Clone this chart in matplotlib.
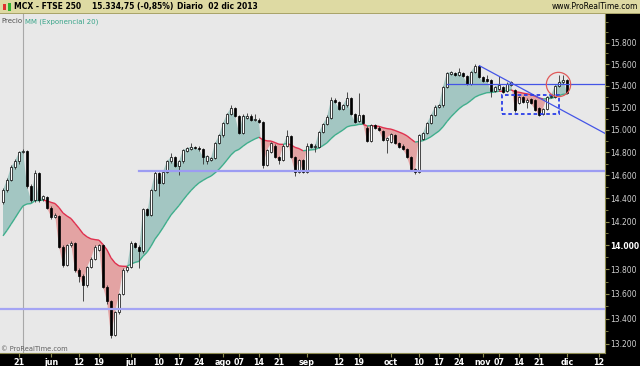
import numpy as np
import pandas as pd
import matplotlib
matplotlib.use('Agg')
import matplotlib.pyplot as plt
from matplotlib.patches import Rectangle
from matplotlib.collections import LineCollection
from matplotlib.ticker import FixedLocator, NullFormatter

# FTSE 250 daily candles, 15 may 2013 -> 02 dic 2013
opens = [
    14370, 14470, 14560, 14670, 14720, 14800, 14815, 14505, 14384, 14620,
    14390, 14410, 14320, 14240, 14250, 13990, 13837, 14000, 14020, 13795,
    13750, 13670, 13820, 13890, 13960, 14000, 13660, 13540, 13267, 13452,
    13600, 13795, 13820, 14020, 13990, 13950, 14310, 14260, 14470, 14620,
    14530, 14630, 14720, 14760, 14680, 14720, 14815, 14830, 14845, 14840,
    14830, 14720, 14730, 14750, 14880, 14950, 15060, 15140, 15200, 15125,
    14975, 15110, 15125, 15090, 15090, 15070, 14687, 14800, 14860, 14760,
    14730, 14860, 14945, 14760, 14630, 14730, 14630, 14870, 14850, 14850,
    14980, 15050, 15110, 15270, 15250, 15190, 15220, 15290, 15140, 15080,
    15130, 15020, 14900, 15040, 15020, 14990, 14910, 14890, 14950, 14880,
    14860, 14830, 14760, 14650, 14630, 14920, 14970, 15060, 15130, 15210,
    15220, 15390, 15510, 15520, 15500, 15520, 15490, 15420, 15530, 15580,
    15480, 15460, 15450, 15350, 15370, 15390, 15350, 15410, 15360, 15240,
    15300, 15250, 15280, 15270, 15200, 15140, 15190, 15295, 15300, 15400,
    15430, 15450,
]
closes = [
    14470, 14560, 14670, 14720, 14800, 14815, 14505, 14384, 14620, 14384,
    14420, 14320, 14240, 14260, 13990, 13837, 14000, 14020, 13795, 13750,
    13670, 13820, 13890, 13990, 14000, 13660, 13540, 13267, 13452, 13600,
    13795, 13820, 14020, 13990, 13950, 14310, 14260, 14470, 14620, 14530,
    14630, 14720, 14760, 14680, 14720, 14820, 14835, 14850, 14835, 14825,
    14760, 14770, 14750, 14880, 14950, 15060, 15140, 15200, 15125, 14975,
    15125, 15125, 15090, 15100, 15070, 14687, 14820, 14880, 14760, 14730,
    14860, 14945, 14760, 14630, 14730, 14630, 14860, 14850, 14860, 14980,
    15050, 15115, 15270, 15255, 15190, 15220, 15290, 15140, 15070, 15130,
    15060, 14900, 15040, 15020, 14995, 14910, 14930, 14960, 14880, 14845,
    14830, 14760, 14650, 14630, 14950, 14970, 15060, 15130, 15210, 15225,
    15390, 15520, 15525, 15500, 15530, 15490, 15420, 15530, 15580, 15480,
    15440, 15445, 15350, 15390, 15410, 15340, 15420, 15430, 15175, 15300,
    15250, 15270, 15240, 15180, 15135, 15190, 15300, 15310, 15400, 15430,
    15455, 15335,
]
highs = [
    14490, 14575, 14690, 14745, 14815, 14830, 14820, 14520, 14640, 14630,
    14430, 14420, 14330, 14275, 14260, 14000, 14010, 14035, 14030, 13810,
    13760, 13830, 13900, 14000, 14010, 14010, 13670, 13550, 13460, 13610,
    13810, 13830, 14040, 14030, 14000, 14320, 14315, 14480, 14635, 14630,
    14640, 14735, 14790, 14770, 14730, 14830, 14850, 14880, 14860, 14860,
    14840, 14780, 14760, 14890, 14960, 15070, 15150, 15225, 15210, 15130,
    15140, 15150, 15140, 15140, 15110, 15080, 14830, 14890, 14870, 14770,
    14870, 15000, 14950, 14770, 14740, 14740, 14880, 14880, 14875, 14990,
    15060, 15130, 15300, 15290, 15260, 15230, 15340, 15295, 15150, 15330,
    15140, 15030, 15055, 15050, 15030, 15000, 14940, 14970, 14960, 14890,
    14870, 14840, 14770, 14660, 14960, 14980, 15070, 15140, 15220, 15235,
    15400, 15530, 15535, 15530, 15560, 15530, 15500, 15540, 15600, 15590,
    15490, 15500, 15460, 15400, 15490, 15400, 15430, 15445, 15370, 15310,
    15310, 15290, 15290, 15280, 15210, 15200, 15310, 15320, 15410, 15500,
    15500, 15460,
]
lows = [
    14350, 14455, 14550, 14650, 14700, 14790, 14490, 14370, 14370, 14370,
    14380, 14310, 14220, 14230, 13980, 13820, 13830, 13990, 13780, 13700,
    13545, 13660, 13810, 13880, 13950, 13650, 13520, 13250, 13260, 13440,
    13590, 13780, 13810, 13980, 13810, 13940, 14250, 14250, 14460, 14415,
    14520, 14620, 14710, 14670, 14600, 14710, 14805, 14820, 14825, 14810,
    14700, 14700, 14720, 14740, 14870, 14940, 15050, 15130, 15115, 14965,
    14965, 15100, 15080, 15080, 15060, 14660, 14680, 14790, 14750, 14700,
    14720, 14850, 14750, 14590, 14620, 14620, 14620, 14840, 14800, 14840,
    14970, 15040, 15100, 15245, 15180, 15180, 15210, 15130, 15060, 15070,
    15050, 14890, 14890, 15010, 14985, 14900, 14795, 14880, 14870, 14835,
    14820, 14750, 14640, 14610, 14620, 14910, 14960, 15050, 15120, 15200,
    15210, 15380, 15500, 15490, 15490, 15480, 15410, 15410, 15520, 15470,
    15430, 15430, 15300, 15340, 15360, 15330, 15340, 15400, 15160, 15230,
    15240, 15200, 15230, 15170, 15120, 15130, 15180, 15285, 15290, 15390,
    15420, 15320,
]
ema_start = 14080  # MM exponencial 20 at first visible bar

# drawn objects on the chart
support_levels = [14635, 13476]
support_from = '2013-07-03'
resistance_level = 15420
resistance_from = '2013-10-21'
trend_line = [('2013-10-31', 15585), ('2013-12-12', 14968)]
box_dates = ['2013-11-08', '2013-11-28']
box_prices = [15141, 15314]
circle_point = ('2013-11-28', 15420)
cursor_date = '2013-05-22'

tick_dates = ['2013-05-21', '2013-06-03', '2013-06-12', '2013-06-19', '2013-07-01',
              '2013-07-10', '2013-07-17', '2013-07-24', '2013-08-01', '2013-08-07',
              '2013-08-14', '2013-08-21', '2013-09-02', '2013-09-12', '2013-09-19',
              '2013-10-01', '2013-10-10', '2013-10-17', '2013-10-24', '2013-11-01',
              '2013-11-07', '2013-11-14', '2013-11-21', '2013-12-02', '2013-12-12']
tick_labels = ['21', 'jun', '12', '19', 'jul', '10', '17', '24', 'ago', '07', '14', '21',
               'sep', '12', '19', 'oct', '10', '17', '24', 'nov', '07', '14', '21', 'dic', '12']

# trading calendar (LSE holidays removed)
days = pd.bdate_range('2013-05-15', '2013-12-31')
days = days[~days.isin(pd.to_datetime(['2013-05-27', '2013-08-26', '2013-12-25', '2013-12-26']))]


def pos(d):
    return days.get_loc(pd.Timestamp(d))


o = np.array(opens, float)
c = np.array(closes, float)
h = np.array(highs, float)
l = np.array(lows, float)
x = np.arange(len(c))

alpha = 2 / 21
ema = [ema_start]
for v in c[1:]:
    ema.append(ema[-1] + alpha * (v - ema[-1]))
ema = np.array(ema)

TEAL_FILL = '#a3c6c2'
RED_FILL = '#e3a3a3'
TEAL_LINE = '#3fae8c'
RED_LINE = '#e0304e'
OLIVE = '#8c8a50'

fig = plt.figure(figsize=(6.4, 3.66), dpi=100, facecolor='black')
ax = fig.add_axes([0, 13 / 366, 605 / 640, 340 / 366])
ax.set_facecolor('#e8e8e8')
ax.set_yscale('log')

# fill between price and EMA
ax.fill_between(x, c, ema, where=c >= ema, interpolate=True, color=TEAL_FILL, lw=0, zorder=1)
ax.fill_between(x, c, ema, where=c < ema, interpolate=True, color=RED_FILL, lw=0, zorder=1)

segs = [[(x[i], ema[i]), (x[i + 1], ema[i + 1])] for i in range(len(x) - 1)]
cols = [TEAL_LINE if c[i + 1] >= ema[i + 1] else RED_LINE for i in range(len(x) - 1)]
ax.add_collection(LineCollection(segs, colors=cols, linewidths=1.0, zorder=2))

# candles
ax.vlines(x, l, h, color='#303030', lw=0.6, zorder=3)
up = c >= o
body_lo = np.minimum(o, c)
body_h = np.maximum(np.abs(c - o), 4)
ax.bar(x[up], body_h[up], bottom=body_lo[up], width=0.58, color='white',
       edgecolor='black', lw=0.5, zorder=4)
ax.bar(x[~up], body_h[~up], bottom=body_lo[~up], width=0.58, color='black',
       edgecolor='black', lw=0.5, zorder=4)

# drawings
ax.axvline(pos(cursor_date), color='#a8a8a8', lw=0.8, zorder=0.5)
ax.plot([pos(support_from), 151], [support_levels[0]] * 2, color='#9c9cf2', lw=1.6, zorder=5)
ax.axhline(support_levels[1], color='#a4a4f4', lw=1.6, zorder=5)
ax.plot([pos(resistance_from), 151], [resistance_level] * 2, color='#4455e6', lw=0.9, zorder=5)
(d0, p0), (d1, p1) = trend_line
ax.plot([pos(d0) + 0.1, pos(d1) + 1.5], [p0, p1], color='#4455e6', lw=0.9, zorder=5)
bx0, bx1 = pos(box_dates[0]) - 0.2, pos(box_dates[1]) + 0.1
ax.add_patch(Rectangle((bx0, box_prices[0]), bx1 - bx0, box_prices[1] - box_prices[0],
                       facecolor='#f4f4f4', alpha=0.45, edgecolor='none', zorder=0.8))
ax.add_patch(Rectangle((bx0, box_prices[0]), bx1 - bx0, box_prices[1] - box_prices[0],
                       facecolor='none', edgecolor='#2a3ee8', lw=1.3, ls=(0, (2, 1.5)), zorder=6))
ax.plot(pos(circle_point[0]) - 0.2, circle_point[1], 'o', ms=17.5, mfc='none',
        mec='#e05a5a', mew=0.9, zorder=6)

# axes
ax.set_xlim(-0.75, 150.5)
ax.set_ylim(13129, 16083)
for s in ['top', 'left']:
    ax.spines[s].set_visible(False)
for s in ['right', 'bottom']:
    ax.spines[s].set_color(OLIVE)
    ax.spines[s].set_linewidth(0.8)

yt = list(range(13200, 15801, 200))
ax.yaxis.tick_right()
ax.yaxis.set_major_locator(FixedLocator(yt))
ax.yaxis.set_minor_locator(FixedLocator(list(range(13200, 16001, 100))))
ax.yaxis.set_minor_formatter(NullFormatter())
ax.set_yticklabels([f'{v:,}'.replace(',', '.') for v in yt])
ax.tick_params(axis='y', which='major', direction='out', length=3, width=0.8, color=OLIVE,
               labelsize=5.5, labelcolor='#d0d0d0', pad=1)
ax.tick_params(axis='y', which='minor', direction='out', length=2, width=0.6, color=OLIVE)
for t in ax.get_yticklabels():
    if t.get_text() == '14.000':
        t.set_color('white')
        t.set_fontweight('bold')

ax.set_xticks([pos(d) for d in tick_dates])
ax.set_xticklabels(tick_labels)
ax.tick_params(axis='x', direction='out', length=3, width=0.8, color=OLIVE,
               labelsize=5.8, labelcolor='white', pad=0.5)
for t in ax.get_xticklabels():
    t.set_fontweight('bold')

# header bar
fig.patches.append(Rectangle((0, 1 - 13 / 366), 1, 13 / 366, transform=fig.transFigure,
                             facecolor='#dedaa3', edgecolor='none', zorder=10))
fig.patches.append(Rectangle((0, 1 - 13.5 / 366), 1, 0.6 / 366, transform=fig.transFigure,
                             facecolor='#a9a46a', edgecolor='none', zorder=10))
fig.patches.append(Rectangle((3 / 640, 1 - 10 / 366), 3 / 640, 6 / 366, transform=fig.transFigure,
                             facecolor='#e03030', edgecolor='none', zorder=11))
fig.patches.append(Rectangle((8 / 640, 1 - 11 / 366), 3 / 640, 8 / 366, transform=fig.transFigure,
                             facecolor='#30b030', edgecolor='none', zorder=11))
hy = 1 - 6.8 / 366
fig.text(14 / 640, hy, 'MCX - FTSE 250', fontsize=5.5, fontweight='bold', va='center', zorder=12)
fig.text(92 / 640, hy, '15.334,75 (-0,85%)', fontsize=5.5, fontweight='bold', va='center', zorder=12)
fig.text(177 / 640, hy, 'Diario  02 dic 2013', fontsize=5.5, fontweight='bold', va='center', zorder=12)
fig.text(638 / 640, hy, 'www.ProRealTime.com', fontsize=5.5, ha='right', va='center', zorder=12)

ax.text(0.002, 0.985, 'Precio', transform=ax.transAxes, fontsize=5, color='#505050', va='top')
ax.text(25 / 605, 0.985, 'MM (Exponencial 20)', transform=ax.transAxes, fontsize=5,
        color='#3aa58a', va='top')
ax.text(0.002, 0.003, '© ProRealTime.com', transform=ax.transAxes, fontsize=4.8, color='#606060',
        va='bottom')

fig.savefig('out.png', dpi=100, facecolor='black')
